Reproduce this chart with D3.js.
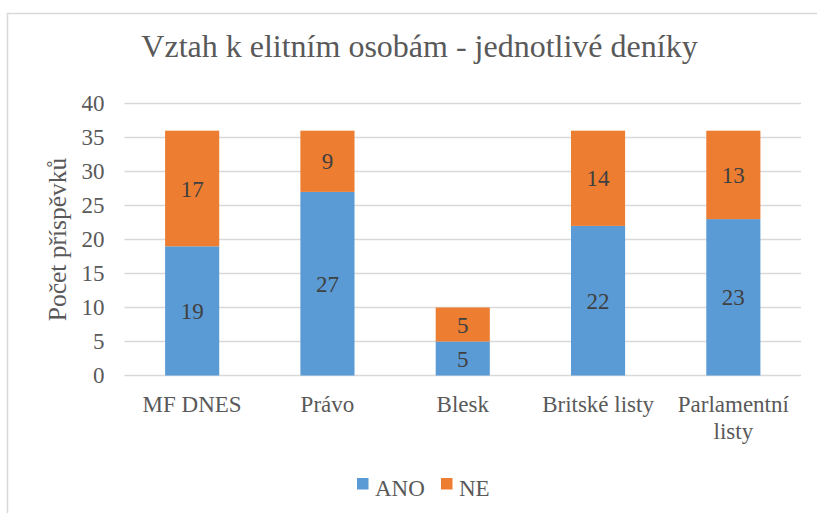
<!DOCTYPE html>
<html>
<head>
<meta charset="utf-8">
<script src="https://cdn.jsdelivr.net/npm/d3@7"></script>
<style>
  body { margin: 0; background: #fff; }
</style>
</head>
<body>
<div class="chart"></div>
<script>
const categories = ["MF DNES", "Právo", "Blesk", "Britské listy", "Parlamentní listy"];
const seriesNames = ["ANO", "NE"];
const ano = [19, 27, 5, 22, 23];
const ne = [17, 9, 5, 14, 13];
const yTicks = [0, 5, 10, 15, 20, 25, 30, 35, 40];

const colors = { ANO: "#5B9BD5", NE: "#ED7D31" };
const textColor = "#595959";
const serif = "'Liberation Serif'";

const W = 817, H = 513;
const plot = { left: 124.5, right: 801, top: 103.5, bottom: 375.5 };

const svg = d3.select(".chart").append("svg")
  .attr("width", W)
  .attr("height", H)
  .style("font-family", serif);

// chart border (runs past the right/bottom edge like the original crop)
svg.append("rect")
  .attr("x", 7.5).attr("y", 13.5)
  .attr("width", 830).attr("height", 520)
  .attr("fill", "#fff")
  .attr("stroke", "#D9D9D9")
  .attr("stroke-width", 1.5);

const x = d3.scaleBand()
  .domain(categories)
  .range([plot.left, plot.right])
  .paddingInner(0.6)
  .paddingOuter(0.3);

const y = d3.scaleLinear()
  .domain([0, 40])
  .range([plot.bottom, plot.top]);

// gridlines
svg.append("g")
  .selectAll("line")
  .data(yTicks)
  .enter()
  .append("line")
  .attr("x1", plot.left).attr("x2", plot.right)
  .attr("y1", d => y(d)).attr("y2", d => y(d))
  .attr("stroke", "#D9D9D9")
  .attr("stroke-width", 1.5);

// y axis labels
const yAxis = svg.append("g")
  .attr("transform", "translate(" + (plot.left - 20) + ",0)")
  .call(d3.axisLeft(y).tickValues(yTicks).tickSize(0).tickPadding(0));
yAxis.select(".domain").remove();
yAxis.attr("font-family", null).attr("font-size", null);
yAxis.selectAll("text")
  .style("font-family", serif)
  .attr("font-size", 23)
  .attr("fill", textColor);

// stacked bars
const rows = categories.map((c, i) => ({ cat: c, ANO: ano[i], NE: ne[i] }));
const stack = d3.stack().keys(seriesNames)(rows);

const layers = svg.append("g")
  .selectAll("g")
  .data(stack)
  .enter()
  .append("g")
  .attr("fill", d => colors[d.key]);

layers.selectAll("rect")
  .data(d => d)
  .enter()
  .append("rect")
  .attr("x", d => x(d.data.cat))
  .attr("width", x.bandwidth())
  .attr("y", d => y(d[1]))
  .attr("height", d => y(d[0]) - y(d[1]));

layers.selectAll("text")
  .data(d => d)
  .enter()
  .append("text")
  .attr("x", d => x(d.data.cat) + x.bandwidth() / 2)
  .attr("y", d => (y(d[0]) + y(d[1])) / 2)
  .attr("dy", "0.35em")
  .attr("text-anchor", "middle")
  .style("font-family", serif)
  .attr("font-size", 23)
  .attr("fill", "#404040")
  .text(d => d[1] - d[0]);

// category labels with wrapping
const wrapWidth = x.step() - 10;
const catG = svg.append("g");
categories.forEach(c => {
  const cx = x(c) + x.bandwidth() / 2;
  const t = catG.append("text")
    .attr("x", cx)
    .attr("y", plot.bottom + 36.5)
    .attr("text-anchor", "middle")
    .style("font-family", serif)
    .attr("font-size", 23)
    .attr("fill", textColor);
  const words = c.split(" ");
  let line = [];
  let tspan = t.append("tspan").attr("x", cx).attr("dy", 0);
  words.forEach(w => {
    line.push(w);
    tspan.text(line.join(" "));
    if (tspan.node().getComputedTextLength() > wrapWidth && line.length > 1) {
      line.pop();
      tspan.text(line.join(" "));
      line = [w];
      tspan = t.append("tspan")
        .attr("x", cx)
        .attr("dy", 27)
        .text(w);
    }
  });
});

// y axis title
svg.append("text")
  .attr("transform", "translate(66," + (plot.top + plot.bottom) / 2 + ") rotate(-90)")
  .attr("text-anchor", "middle")
  .style("font-family", serif)
  .attr("font-size", 25.5)
  .attr("fill", textColor)
  .text("Počet příspěvků");

// title
svg.append("text")
  .attr("x", 419.5)
  .attr("y", 57)
  .attr("text-anchor", "middle")
  .style("font-family", serif)
  .attr("font-size", 32)
  .attr("fill", textColor)
  .text("Vztah k elitním osobám - jednotlivé deníky");

// legend
const legendX = [357, 441];
const legend = svg.append("g")
  .selectAll("g")
  .data(seriesNames)
  .enter()
  .append("g")
  .attr("transform", (d, i) => "translate(" + legendX[i] + ",478)");
legend.append("rect")
  .attr("width", 11.5).attr("height", 11.5)
  .attr("fill", d => colors[d]);
legend.append("text")
  .attr("x", 18)
  .attr("y", 18)
  .style("font-family", serif)
  .attr("font-size", 23)
  .attr("fill", textColor)
  .text(d => d);
</script>
</body>
</html>
